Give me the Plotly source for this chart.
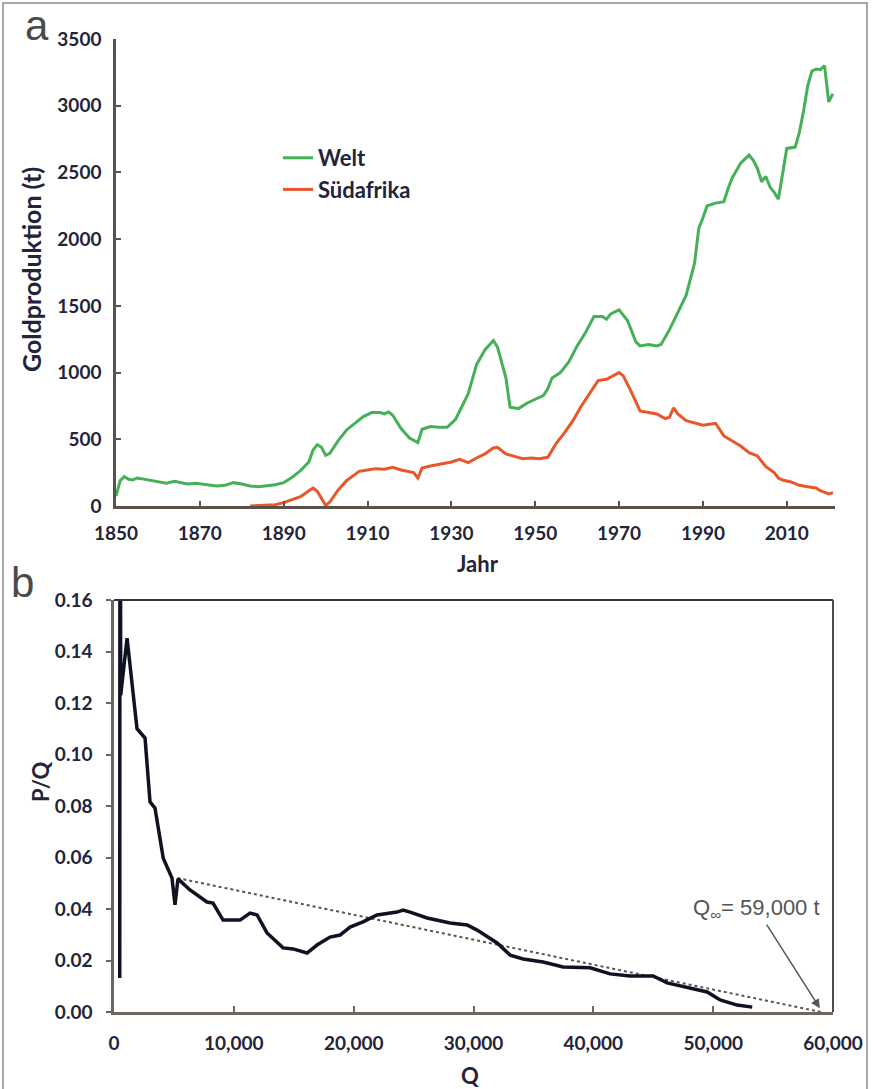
import plotly.graph_objects as go

# ---- Panel a: annual gold production (t) ----
years_world = [1850, 1851, 1852, 1853, 1854, 1855, 1856, 1857, 1858, 1859, 1860, 1862, 1864,
               1865, 1867, 1869, 1870, 1872, 1874, 1876, 1878, 1880, 1882, 1884, 1886, 1888,
               1890, 1892, 1894, 1896, 1897, 1898, 1899, 1900, 1901, 1902, 1903, 1905, 1907,
               1909, 1911, 1913, 1914, 1915, 1916, 1918, 1920, 1922, 1923, 1925, 1927, 1929,
               1931, 1933, 1934, 1936, 1938, 1940, 1941, 1943, 1944, 1946, 1948, 1950, 1952,
               1953, 1954, 1956, 1958, 1960, 1962, 1964, 1966, 1967, 1968, 1970, 1972, 1974,
               1975, 1977, 1979, 1980, 1982, 1984, 1986, 1988, 1989, 1990, 1991, 1993, 1995,
               1996, 1997, 1999, 2001, 2002, 2003, 2004, 2005, 2006, 2007, 2008, 2009, 2010,
               2012, 2013, 2014, 2015, 2016, 2017, 2018, 2019, 2020, 2021]
world_t = [75, 190, 220, 200, 195, 210, 205, 200, 190, 185, 180, 170, 185,
           180, 165, 170, 165, 155, 150, 155, 175, 165, 150, 145, 150, 160,
           175, 215, 265, 330, 420, 460, 440, 380, 395, 440, 490, 570, 620,
           670, 700, 700, 690, 705, 680, 580, 510, 475, 575, 595, 590, 590,
           650, 780, 840, 1060, 1170, 1240, 1190, 960, 740, 730, 770, 800, 830,
           880, 960, 1000, 1080, 1200, 1300, 1420, 1420, 1400, 1440, 1470, 1390, 1230,
           1200, 1210, 1200, 1210, 1320, 1450, 1580, 1820, 2080, 2160, 2250, 2270, 2280,
           2380, 2460, 2570, 2630, 2590, 2530, 2430, 2470, 2390, 2350, 2300, 2490, 2680,
           2690, 2800, 2960, 3150, 3260, 3275, 3270, 3300, 3030, 3090]

years_sa = [1882, 1886, 1888, 1890, 1892, 1894, 1896, 1897, 1898, 1899, 1900, 1901, 1903,
            1905, 1907, 1908, 1910, 1912, 1914, 1916, 1918, 1920, 1921, 1922, 1923, 1925,
            1928, 1930, 1932, 1934, 1936, 1938, 1940, 1941, 1943, 1945, 1947, 1949, 1951,
            1953, 1955, 1957, 1959, 1961, 1963, 1965, 1967, 1969, 1970, 1971, 1973, 1975,
            1977, 1979, 1981, 1982, 1983, 1984, 1986, 1988, 1990, 1992, 1993, 1995, 1997,
            1999, 2001, 2003, 2005, 2007, 2008, 2009, 2011, 2013, 2015, 2017, 2018, 2019,
            2020, 2021]
sa_t = [0, 5, 10, 25, 45, 70, 115, 135, 110, 60, 5, 30, 120,
        190, 240, 260, 270, 280, 275, 290, 270, 255, 250, 210, 285, 300,
        320, 330, 350, 325, 360, 390, 435, 440, 390, 370, 355, 360, 355,
        365, 470, 550, 640, 750, 850, 940, 950, 985, 1000, 975, 850, 712,
        700, 690, 655, 665, 735, 690, 640, 620, 605, 615, 620, 525, 490,
        450, 400, 375, 295, 250, 210, 195, 180, 155, 145, 135, 115, 100,
        90, 100]

# ---- Panel b: Hubbert linearisation, P/Q against cumulative production Q (t) ----
q_cum = [480, 500, 560, 1090, 1920, 2590, 3005, 3420, 3900, 4110, 4840, 5090, 5340,
         6340, 7760, 8260, 9100, 10520, 11350, 11940, 12770, 14110, 14940, 16110, 16940,
         18030, 18860, 19700, 20780, 21950, 23620, 24120, 24710, 26130, 28050, 29470,
         30300, 31970, 33060, 34140, 35810, 37480, 39730, 41400, 43070, 44990, 46160,
         49500, 50580, 52000, 53260]
pq_ratio = [0.0132, 0.30, 0.123, 0.1452, 0.110, 0.1064, 0.0816, 0.0792, 0.0668, 0.0597,
            0.052, 0.0416, 0.0517, 0.0474, 0.0427, 0.0423, 0.0357, 0.0357, 0.0384, 0.0377,
            0.0307, 0.0249, 0.0245, 0.0229, 0.026, 0.0291, 0.0299, 0.033, 0.035, 0.0377,
            0.0388, 0.0396, 0.0388, 0.0365, 0.0346, 0.0338, 0.0318, 0.0268, 0.0221, 0.0206,
            0.0194, 0.0175, 0.0172, 0.0148, 0.014, 0.014, 0.0113, 0.0078, 0.0047, 0.0027,
            0.0019]
fit_q = [5300, 59000]
fit_pq = [0.052, 0.0]
q_inf = 59000
q_inf_label = "Q<sub>∞</sub>= 59,000 t"

W, H = 872, 1089
FONT = "Lato, 'Open Sans', sans-serif"
TXT = "#23233a"
AX_A = "#5b5148"
AX_B = "#6e665e"
GREEN = "#45B058"
RED = "#E8562A"


def px(x):
    return x / W


def py(y):
    return 1 - y / H


fig = go.Figure()
fig.add_trace(go.Scatter(x=years_world, y=world_t, name="Welt", mode="lines",
                         line=dict(color=GREEN, width=3), xaxis="x", yaxis="y"))
fig.add_trace(go.Scatter(x=years_sa, y=sa_t, name="Südafrika", mode="lines",
                         line=dict(color=RED, width=3), xaxis="x", yaxis="y"))
fig.add_trace(go.Scatter(x=fit_q, y=fit_pq, mode="lines", showlegend=False,
                         line=dict(color="#555555", width=2, dash="dot"),
                         xaxis="x2", yaxis="y2"))
fig.add_trace(go.Scatter(x=q_cum, y=pq_ratio, mode="lines", showlegend=False,
                         line=dict(color="#111122", width=3.5),
                         xaxis="x2", yaxis="y2"))

tick_font = dict(family=FONT, size=19, color=TXT, weight="bold")
title_font = dict(family=FONT, size=22, color=TXT, weight="bold")

fig.update_layout(
    width=W, height=H,
    margin=dict(l=0, r=0, t=0, b=0),
    paper_bgcolor="white", plot_bgcolor="white",
    showlegend=True,
    legend=dict(x=px(278), y=py(137), xanchor="left", yanchor="top",
                font=dict(family=FONT, size=22, color=TXT, weight="bold"),
                bgcolor="rgba(0,0,0,0)", tracegroupgap=0),
    xaxis=dict(domain=[px(116), px(835)], anchor="y", range=[1850, 2021.5],
               tick0=1850, dtick=20, showline=True, linecolor=AX_A, linewidth=2.5,
               ticks="inside", ticklen=5, tickwidth=1.5, tickcolor=AX_A,
               showgrid=False, zeroline=False, tickfont=tick_font,
               ticklabelstandoff=8, automargin=False),
    yaxis=dict(domain=[py(506), py(39)], anchor="x", range=[0, 3500], dtick=500,
               showline=True, linecolor=AX_A, linewidth=2.5,
               ticks="inside", ticklen=5, tickwidth=1.5, tickcolor=AX_A,
               showgrid=False, zeroline=False, tickfont=tick_font,
               ticklabelstandoff=8, automargin=False),
    xaxis2=dict(domain=[px(114), px(833)], anchor="y2", range=[0, 60000],
                dtick=10000, tickformat=",", showline=True, linecolor=AX_B,
                linewidth=2.5, ticks="inside", ticklen=6, tickwidth=1.5,
                tickcolor=AX_B, showgrid=False, zeroline=False, tickfont=tick_font,
                ticklabelstandoff=12, automargin=False),
    yaxis2=dict(domain=[py(1012), py(600)], anchor="x2", range=[0, 0.16],
                dtick=0.02, tickformat=".2f", showline=True, linecolor=AX_B,
                linewidth=2.5, ticks="outside", ticklen=5, tickwidth=1.5,
                tickcolor=AX_B, showgrid=False, zeroline=False, tickfont=tick_font,
                ticklabelstandoff=10, automargin=False),
)

# top and right edges of panel b's frame, plus the outer page frame
fig.add_shape(type="line", xref="x2 domain", yref="y2 domain", x0=0, x1=1, y0=1, y1=1,
              line=dict(color="#333340", width=2))
fig.add_shape(type="line", xref="x2 domain", yref="y2 domain", x0=1, x1=1, y0=0, y1=1,
              line=dict(color="#4a4a50", width=2))
fig.add_shape(type="rect", xref="paper", yref="paper", x0=px(3), x1=px(867),
              y0=-0.01, y1=py(3), line=dict(color="#8a8a8a", width=1.5))

annotations = [
    dict(text="a", x=px(37), y=py(25), font=dict(family="Liberation Sans, Arial", size=42,
                                                  color="#4a4a4a")),
    dict(text="b", x=px(22), y=py(582), font=dict(family="Liberation Sans, Arial", size=42,
                                                   color="#4a4a4a")),
    dict(text="Goldproduktion (t)", x=px(31), y=py(270), textangle=-90,
         font=dict(family=FONT, size=25, color=TXT, weight="bold")),
    dict(text="Jahr", x=px(478), y=py(563), font=title_font),
    dict(text="P/Q", x=px(40), y=py(782), textangle=-90, font=title_font),
    dict(text="Q", x=px(470), y=py(1075), font=title_font),
]
for a in annotations:
    a.update(xref="paper", yref="paper", showarrow=False, xanchor="center", yanchor="middle")
    fig.add_annotation(**a)

fig.add_annotation(text=q_inf_label, x=q_inf - 100, y=0.0015, xref="x2", yref="y2",
                   ax=-63, ay=-99, showarrow=True, arrowhead=2, arrowsize=1.2,
                   arrowwidth=1.5, arrowcolor="#555555",
                   font=dict(family="Liberation Sans, Arial", size=22, color="#555555"))

fig.write_html("out.html")
